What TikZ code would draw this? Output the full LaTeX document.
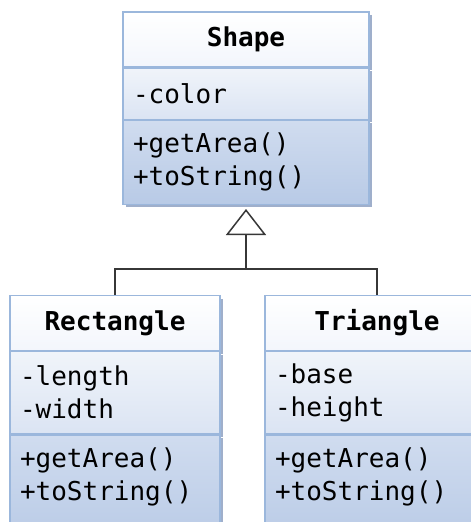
\documentclass[tikz,border=0pt]{standalone}
\usepackage{fontspec}
\usepackage{xcolor}
\usepackage{tikz}
\usetikzlibrary{positioning,shadows,arrows.meta}

\newfontfamily\umlfont{DejaVu Sans Mono}

\definecolor{umlborder}{RGB}{155,183,220}
\definecolor{umlshadow}{RGB}{135,155,190}
\definecolor{titletop}{RGB}{255,255,255}
\definecolor{titlebot}{RGB}{243,246,252}
\definecolor{attrtop}{RGB}{240,244,250}
\definecolor{attrbot}{RGB}{219,228,243}
\definecolor{methtop}{RGB}{208,220,239}
\definecolor{methbot}{RGB}{184,202,230}
\definecolor{umlline}{RGB}{55,55,55}

\tikzset{
  classpart/.style={draw=umlborder, line width=1.2pt, inner xsep=10pt, inner ysep=0pt,
    font=\umlfont\fontsize{26}{33}\selectfont,
    drop shadow={shadow xshift=3pt, shadow yshift=-3pt, fill=umlshadow, opacity=0.8}},
  classname/.style={classpart, align=center, minimum height=55pt,
    top color=titletop, bottom color=titlebot, font=\umlfont\bfseries\fontsize{26}{33}\selectfont},
  classattrs/.style={classpart, align=left, top color=attrtop, bottom color=attrbot},
  classmeths/.style={classpart, align=left, top color=methtop, bottom color=methbot},
  inherit/.style={draw=umlline, line width=1.5pt}
}

\begin{document}
\begin{tikzpicture}[x=1pt, y=1pt]
    \useasboundingbox[fill=white] (0,0) rectangle (471,-522);

    % Shape
    \node[classname, text width=226pt] (shape) at (246,-39.5) {Shape};
    \node[classattrs, text width=226pt, minimum height=51pt, below=0pt of shape] (shape-attrs) {-color};
    \node[classmeths, text width=226pt, minimum height=84pt, below=0pt of shape-attrs] (shape-meths) {+getArea()\\+toString()};

    % Rectangle
    \node[classname, text width=190pt] (rect) at (115,-323) {Rectangle};
    \node[classattrs, text width=190pt, minimum height=82pt, below=0pt of rect] (rect-attrs) {-length\\-width};
    \node[classmeths, text width=190pt, below=0pt of rect-attrs, inner ysep=13pt] (rect-meths) {+getArea()\\+toString()\\~};

    % Triangle
    \node[classname, text width=204pt] (tri) at (377,-323) {Triangle};
    \node[classattrs, text width=204pt, minimum height=82pt, below=0pt of tri] (tri-attrs) {-base\\-height};
    \node[classmeths, text width=204pt, below=0pt of tri-attrs, inner ysep=13pt] (tri-meths) {+getArea()\\+toString()\\~};

    % Generalization
    \coordinate (joint) at (246,-269);
    \draw[inherit] (rect.north) |- (joint) -| (tri.north);
    \draw[inherit, -{Triangle[open, length=26pt, width=40pt, line width=1.5pt]}, shorten >=4pt] (joint) -- (shape-meths.south);
\end{tikzpicture}
\end{document}
